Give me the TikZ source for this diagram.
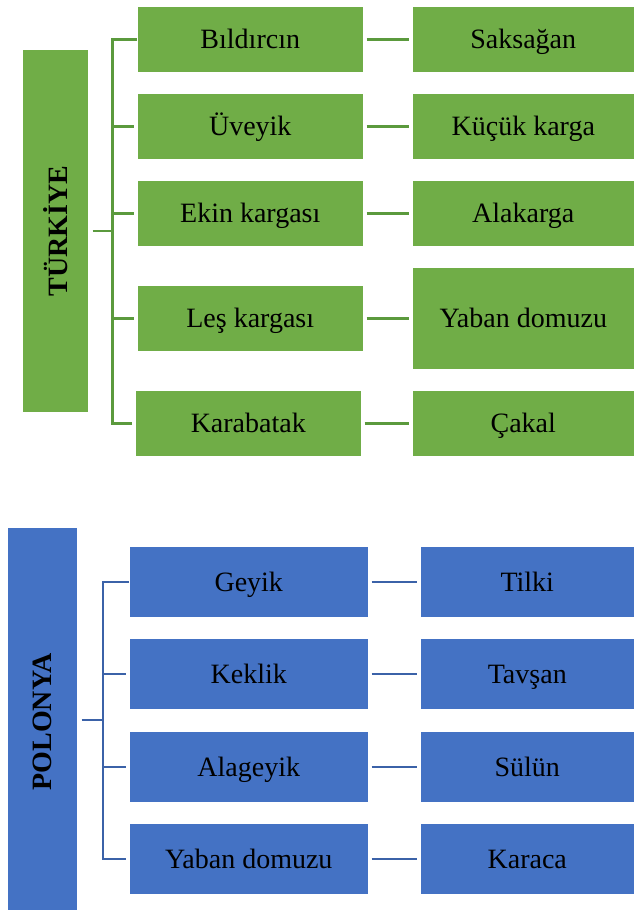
\documentclass[tikz,border=0pt]{standalone}
\usepackage{fontspec}
\setmainfont{Liberation Serif}
\usepackage{tikz}
\definecolor{tgreen}{HTML}{70AD47}
\definecolor{tgline}{HTML}{5B9A3D}
\definecolor{pblue}{HTML}{4472C4}
\definecolor{pbline}{HTML}{3B62A8}
\tikzset{cell/.style={draw=white,line width=0.4pt,inner sep=0pt,anchor=north west,align=center,
    text height=16pt,text depth=2pt,font=\fontsize{21}{25}\selectfont},
  gcell/.style={cell,fill=tgreen},
  bcell/.style={cell,fill=pblue},
  head/.style={font=\fontsize{21}{25}\selectfont\bfseries,rotate=90},
  gline/.style={draw=tgline,line width=1.9pt},
  bline/.style={draw=pbline,line width=1.9pt},
  gap/.style={shorten <=2.25pt,shorten >=2.25pt}}
\begin{document}
\begin{tikzpicture}[x=0.75pt,y=-0.75pt]
\useasboundingbox (0,0) rectangle (634,910);
% Turkiye
\node[gcell,minimum width=49.5pt,minimum height=272.25pt] (tur) at (22,49) {};
\node[head] at (tur.center) {TÜRKİYE};
\node[gcell,minimum width=169.5pt,minimum height=49.5pt] (b1) at (137,6) {Bıldırcın};
\node[gcell,minimum width=169.5pt,minimum height=49.5pt] (b2) at (137,93) {Üveyik};
\node[gcell,minimum width=169.5pt,minimum height=49.5pt] (b3) at (137,180) {Ekin kargası};
\node[gcell,minimum width=169.5pt,minimum height=49.5pt] (b4) at (137,285) {Leş kargası};
\node[gcell,minimum width=169.5pt,minimum height=49.5pt] (b5) at (135,390) {Karabatak};
\node[gcell,minimum width=166.5pt,minimum height=49.5pt] (s1) at (412,6) {Saksağan};
\node[gcell,minimum width=166.5pt,minimum height=49.5pt] (s2) at (412,93) {Küçük karga};
\node[gcell,minimum width=166.5pt,minimum height=49.5pt] (s3) at (412,180) {Alakarga};
\node[gcell,minimum width=166.5pt,minimum height=76.5pt] (s4) at (412,267) {Yaban domuzu};
\node[gcell,minimum width=166.5pt,minimum height=49.5pt] (s5) at (412,390) {Çakal};
\coordinate (tk) at (112.5,231);
\draw[gline,shorten <=3pt] (tur.east |- tk) -- (tk);
\draw[gline,shorten >=2.25pt] (b1.west) -| (tk) |- (b5.west);
\draw[gline,shorten >=2.25pt] (tk |- b2.west) -- (b2.west);
\draw[gline,shorten >=2.25pt] (tk |- b3.west) -- (b3.west);
\draw[gline,shorten >=2.25pt] (tk |- b4.west) -- (b4.west);
\draw[gline,gap] (b1) -- (s1);
\draw[gline,gap] (b2) -- (s2);
\draw[gline,gap] (b3) -- (s3);
\draw[gline,gap] (b4) -- (s4);
\draw[gline,gap] (b5) -- (s5);
% Polonya
\node[bcell,minimum width=52.5pt,minimum height=287.25pt] (pol) at (7,527) {};
\node[head] at ([yshift=-2.25pt]pol.center) {POLONYA};
\node[bcell,minimum width=179.25pt,minimum height=53.25pt] (g1) at (129,546) {Geyik};
\node[bcell,minimum width=179.25pt,minimum height=53.25pt] (g2) at (129,638) {Keklik};
\node[bcell,minimum width=179.25pt,minimum height=53.25pt] (g3) at (129,731) {Alageyik};
\node[bcell,minimum width=179.25pt,minimum height=53.25pt] (g4) at (129,823) {Yaban domuzu};
\node[bcell,minimum width=160.5pt,minimum height=53.25pt] (t1) at (420,546) {Tilki};
\node[bcell,minimum width=160.5pt,minimum height=53.25pt] (t2) at (420,638) {Tavşan};
\node[bcell,minimum width=160.5pt,minimum height=53.25pt] (t3) at (420,731) {Sülün};
\node[bcell,minimum width=160.5pt,minimum height=53.25pt] (t4) at (420,823) {Karaca};
\coordinate (pk) at (103,720);
\draw[bline,shorten <=3pt] (pol.east |- pk) -- (pk);
\draw[bline,shorten >=2.25pt] (g1.west) -| (pk) |- (g4.west);
\draw[bline,shorten >=2.25pt] (pk |- g2.west) -- (g2.west);
\draw[bline,shorten >=2.25pt] (pk |- g3.west) -- (g3.west);
\draw[bline,gap] (g1) -- (t1);
\draw[bline,gap] (g2) -- (t2);
\draw[bline,gap] (g3) -- (t3);
\draw[bline,gap] (g4) -- (t4);
\end{tikzpicture}
\end{document}
